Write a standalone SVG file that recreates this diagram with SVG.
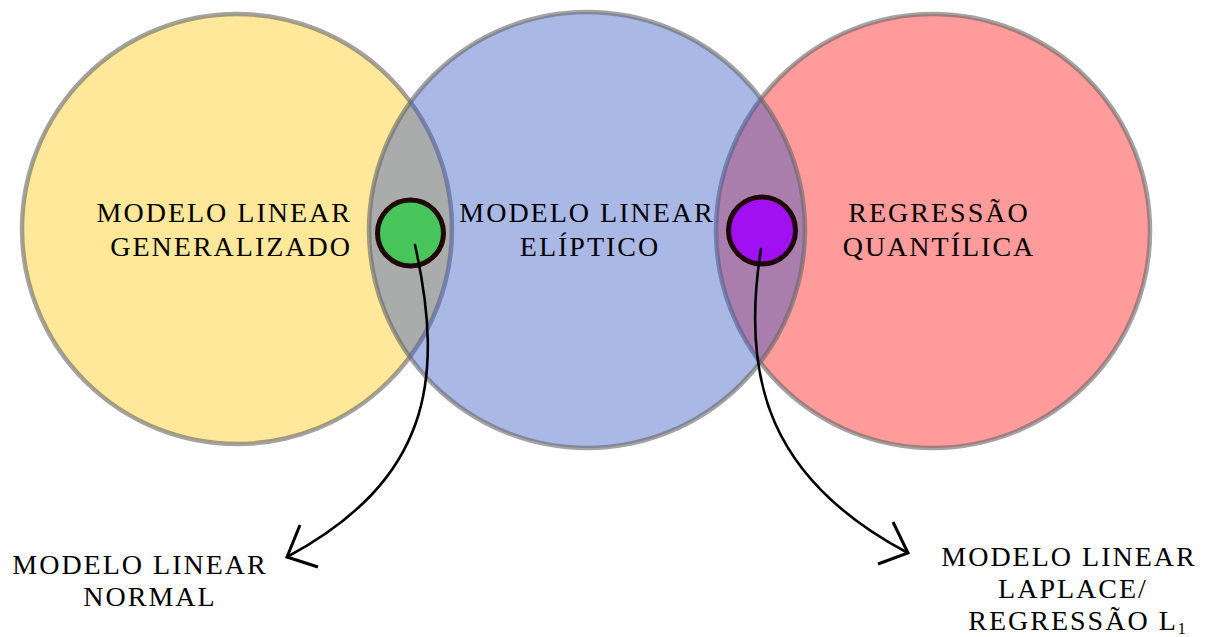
<svg xmlns="http://www.w3.org/2000/svg" width="1205" height="637" viewBox="0 0 1205 637">
  <style>
    .set { stroke: #666; stroke-opacity: 0.6; stroke-width: 4.5; }
    .dot { stroke: #200808; stroke-width: 5; }
    .lbl { font-family: "Liberation Serif", "DejaVu Serif", serif; font-size: 28px; letter-spacing: 2px; fill: #000; }
    .link { fill: none; stroke: #000; stroke-width: 2.6; stroke-linecap: round; }
    .head { fill: none; stroke: #000; stroke-width: 3; stroke-linecap: butt; stroke-linejoin: miter; }
  </style>

  <!-- the three model families; the translucent middle one is painted last -->
  <g id="glm">
    <circle class="set" cx="237" cy="229" r="215" fill="#FFE899"/>
    <text class="lbl" text-anchor="end" x="352" y="222">MODELO LINEAR</text>
    <text class="lbl" text-anchor="end" x="352" y="256">GENERALIZADO</text>
  </g>
  <g id="quantile">
    <circle class="set" cx="933" cy="231" r="217" fill="#FF9B9B"/>
  </g>
  <g id="elliptic">
    <circle class="set" cx="587" cy="230" r="218" fill="#3556C4" fill-opacity="0.42"/>
  </g>
  <g id="elliptic-label">
    <text class="lbl" text-anchor="middle" x="587" y="222">MODELO LINEAR</text>
    <text class="lbl" text-anchor="middle" x="590" y="256">ELÍPTICO</text>
  </g>
  <g id="quantile-label">
    <text class="lbl" text-anchor="middle" x="939" y="222">REGRESSÃO</text>
    <text class="lbl" text-anchor="middle" x="939" y="256">QUANTÍLICA</text>
  </g>

  <!-- special cases at the intersections -->
  <g id="normal-dot">
    <circle class="dot" cx="410.5" cy="233" r="33" fill="#49C65B"/>
  </g>
  <g id="laplace-dot">
    <circle class="dot" cx="762" cy="230.5" r="33.5" fill="#A010F0"/>
  </g>

  <g id="connectors">
    <path class="link" d="M415,245 C445,380 430,480 287,557"/>
    <polyline class="head" points="300,525 287,557 318,567"/>
    <path class="link" d="M761,249 C740,380 770,480 908,553"/>
    <polyline class="head" points="893,522 908,553 878,564"/>
  </g>

  <g id="normal">
    <text class="lbl" text-anchor="middle" x="140" y="574">MODELO LINEAR</text>
    <text class="lbl" text-anchor="middle" x="150" y="606">NORMAL</text>
  </g>
  <g id="laplace">
    <text class="lbl" text-anchor="middle" x="1069" y="566">MODELO LINEAR</text>
    <text class="lbl" text-anchor="middle" x="1073" y="598">LAPLACE/</text>
    <text class="lbl" text-anchor="middle" x="1078" y="630">REGRESSÃO L<tspan font-size="16" dy="4">1</tspan></text>
  </g>
</svg>
